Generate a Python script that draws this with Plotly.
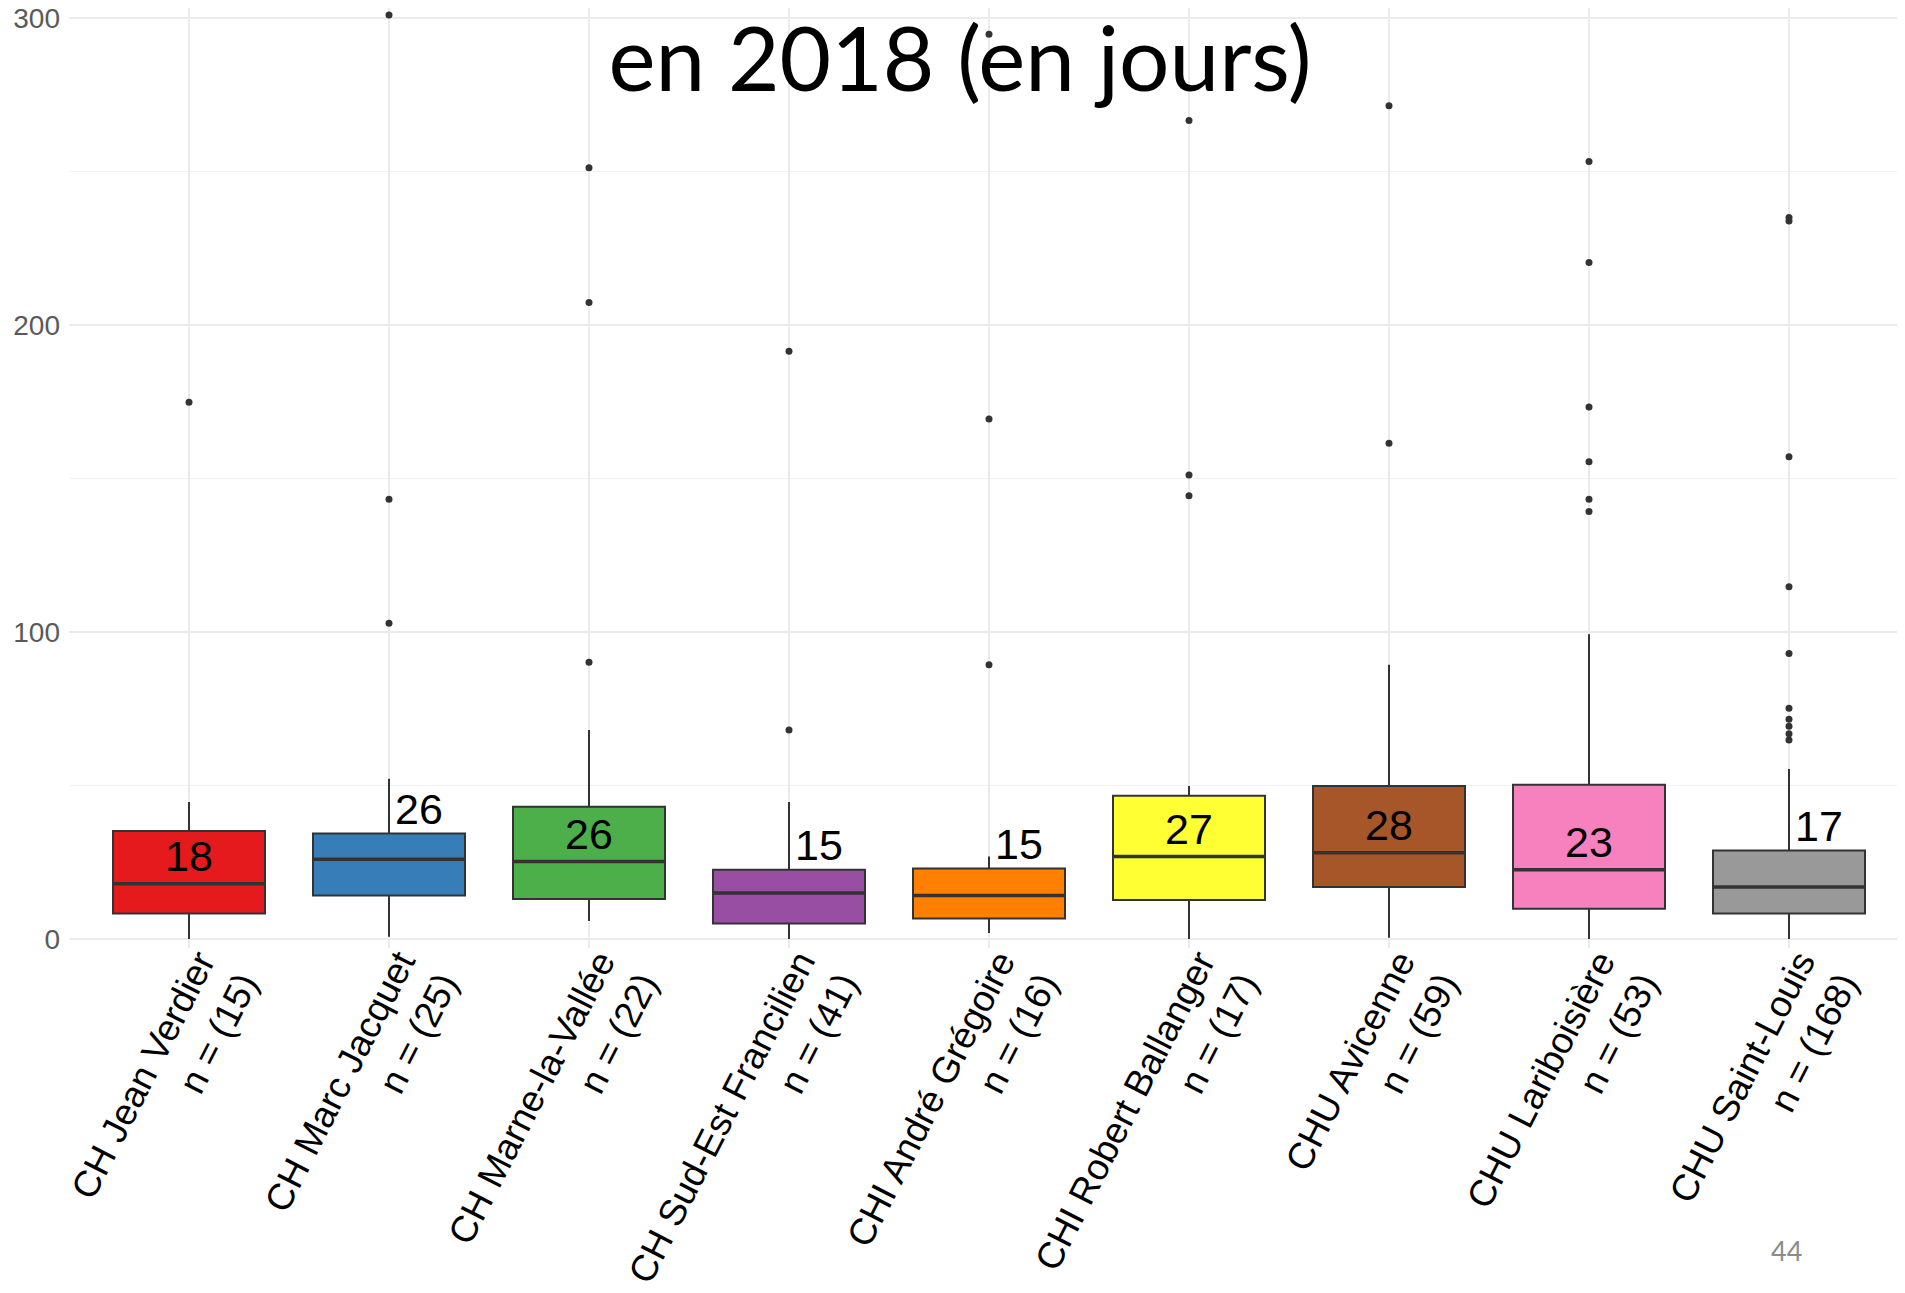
import plotly.graph_objects as go

hospitals = ['CH Jean Verdier', 'CH Marc Jacquet', 'CH Marne-la-Vallée', 'CH Sud-Est Francilien',
             'CHI André Grégoire', 'CHI Robert Ballanger', 'CHU Avicenne', 'CHU Lariboisière',
             'CHU Saint-Louis']
n_counts = [15, 25, 22, 41, 16, 17, 59, 53, 168]

q1 = [8.3, 14.2, 13.1, 5.1, 6.7, 12.7, 17.0, 9.9, 8.3]
median = [18, 26, 25.3, 15, 14.2, 26.9, 28.1, 22.6, 17]
q3 = [35.2, 34.4, 43.1, 22.6, 23.0, 46.7, 49.9, 50.3, 28.9]
lower = [0, 0.8, 5.9, 0, 2.0, 0, 0.4, 0, 0]
upper = [44.7, 52.2, 68.1, 44.7, 26.9, 49.9, 89.4, 99.3, 55.4]

outliers = [
    [174.9],
    [102.9, 143.3, 301],
    [90.2, 207.4, 251.3],
    [68.1, 191.5],
    [89.4, 169.4, 294.8],
    [144.4, 151.2, 266.7],
    [161.5, 271.5],
    [139.3, 143.3, 155.5, 173.3, 220.4, 253.3],
    [64.9, 66.9, 69.3, 71.6, 75.2, 93.0, 114.8, 157.1, 233.9, 235.1],
]

label_values = [18, 26, 26, 15, 15, 27, 28, 23, 17]

colors = ['#E41A1C', '#377EB8', '#4DAF4A', '#984EA3', '#FF7F00', '#FFFF33', '#A65628', '#F781BF', '#999999']

cats = [f'{h}<br>n = ({n})' for h, n in zip(hospitals, n_counts)]

fig = go.Figure()

for i, c in enumerate(cats):
    fig.add_trace(go.Box(
        x=[c], q1=[q1[i]], median=[median[i]], q3=[q3[i]],
        lowerfence=[lower[i]], upperfence=[upper[i]],
        fillcolor=colors[i], line=dict(color='#333333', width=2),
        width=0.76, whiskerwidth=0, boxpoints=False, showlegend=False,
        hoverinfo='skip',
    ))
    # thicker median line like ggplot
    fig.add_shape(type='line', xref='x', yref='y', x0=i - 0.38, x1=i + 0.38,
                  y0=median[i], y1=median[i], line=dict(color='#333333', width=3.5))

ox, oy = [], []
for c, vals in zip(cats, outliers):
    ox += [c] * len(vals)
    oy += vals
fig.add_trace(go.Scatter(x=ox, y=oy, mode='markers', showlegend=False,
                         marker=dict(color='#333333', size=7)))

# median labels: inside the box when there is room, otherwise above it
for i, c in enumerate(cats):
    if q3[i] - median[i] >= 15:
        fig.add_annotation(x=c, y=median[i] + 9, text=str(label_values[i]), showarrow=False,
                           xanchor='center', yanchor='middle',
                           font=dict(family='Liberation Sans', size=43, color='black'))
    else:
        fig.add_annotation(x=c, y=q3[i] + 8, text=str(label_values[i]), showarrow=False,
                           xanchor='left', yanchor='middle', xshift=4,
                           font=dict(family='Liberation Sans', size=43, color='black'))

# rotated category labels sit a bit right of the boxes (like ggplot hjust=1)
label_pos = [i + 0.16 for i in range(len(cats))]
fig.add_trace(go.Scatter(x=label_pos, y=[0] * len(cats), xaxis='x2', mode='markers',
                         marker=dict(opacity=0), showlegend=False, hoverinfo='skip'))

# slide page number
fig.add_annotation(xref='paper', yref='paper', x=0.9393, y=-0.3223, text='44', showarrow=False,
                   xanchor='center', yanchor='middle',
                   font=dict(family='Lato', size=27, color='#8c8c8c'))

fig.update_layout(
    width=1889, height=1277,
    margin=dict(l=61, r=0, t=0, b=337),
    plot_bgcolor='white', paper_bgcolor='white',
    boxmode='overlay',
    title=dict(text='en 2018 (en jours)', xref='container', yref='container',
               x=0.504, y=0.9596, xanchor='center', yanchor='middle',
               font=dict(family='Lato', size=89, color='black')),
    xaxis=dict(type='category', categoryorder='array', categoryarray=cats,
               range=[-0.6, 8.54], showgrid=True, gridcolor='#EBEBEB', gridwidth=1.5,
               showticklabels=False, ticks='', showline=False, zeroline=False,
               automargin=False),
    xaxis2=dict(overlaying='x', anchor='y', side='bottom', range=[-0.6, 8.54],
                tickmode='array', tickvals=label_pos, ticktext=cats, tickangle=-63,
                showgrid=False, ticks='', showline=False, zeroline=False, automargin=False,
                ticklabelstandoff=-5,
                tickfont=dict(family='Liberation Sans', size=37, color='black')),
    yaxis=dict(range=[-2.9, 303.32], tickvals=[0, 100, 200, 300], showgrid=True,
               gridcolor='#EBEBEB', gridwidth=1.5, zeroline=False, showline=False,
               ticks='', ticklabelstandoff=8, automargin=False, ticklabeloverflow='allow',
               minor=dict(dtick=50, showgrid=True, gridcolor='#F2F2F2', gridwidth=1.2),
               tickfont=dict(family='Liberation Sans', size=28, color='#5a5a5a')),
)

fig.write_html('out.html')
